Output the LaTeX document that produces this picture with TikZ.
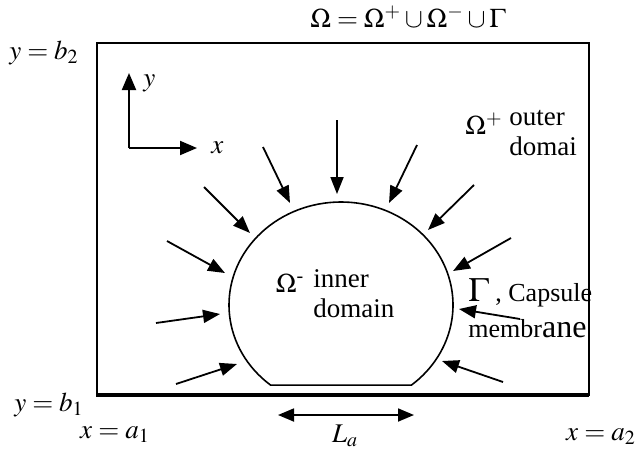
\documentclass[tikz,border=0pt]{standalone}
\usepackage{mathptmx}
\usepackage[no-math]{fontspec}
\setmainfont{Liberation Serif}
\usepackage{tikz}
\usetikzlibrary{
    arrows.meta,
    positioning,
    calc
}

\begin{document}
\begin{tikzpicture}[
    x=0.5pt, y=-0.5pt,
    every node/.style={inner sep=0pt, font=\fontsize{13.5}{15}\selectfont},
    wall/.style={draw=black, line width=0.8pt},
    ground/.style={draw=black, line width=2pt},
    membrane/.style={draw=black, line width=0.8pt},
    loadarrow/.style={draw=black, line width=0.9pt, -{Triangle[length=8.5pt, width=6.5pt]}},
    axisarrow/.style={draw=black, line width=1pt, -{Triangle[length=8.5pt, width=7pt]}},
    spanarrow/.style={draw=black, line width=0.9pt, {Triangle[length=8pt, width=6.5pt]}-{Triangle[length=8pt, width=6.5pt]}},
    lbl/.style={align=left, anchor=west}
]
\useasboundingbox (0,0) rectangle (642,450);

% ==================== DOMAIN ====================
\coordinate (sw) at (97,395);
\coordinate (ne) at (589,43);
\draw[wall] (sw) rectangle (ne);
\draw[ground] ($(sw)+(-1,0)$) -- (sw -| ne);

\node (omega) at (408,17) {$\Omega=\Omega^{+}\cup\Omega^{-}\cup\Gamma$};
\node (yb2) at (44,53) {$y=b_{2}$};
\node (yb1) at (49,405) {$y=b_{1}$};
\node (xa1) at (115,435) {$x=a_{1}$};
\node (xa2) at (601,437) {$x=a_{2}$};

% ==================== AXES ====================
\coordinate (orig) at (129,148);
\coordinate (ytip) at (129,73);
\coordinate (xtip) at (197,148);
\draw[axisarrow] (orig) -- (ytip);
\draw[axisarrow] (orig) -- (xtip);
\node[right=7pt of ytip, yshift=-5pt] (ylab) {$y$};
\node[right=7pt of xtip] (xlab) {$x$};

% ==================== OUTER DOMAIN ====================
\node (omplus) at (484,124) {$\Omega^{+}$};
\node[lbl, anchor=north west] (outer) at (509,110) {outer\\domai};

% ==================== CAPSULE ====================
\coordinate (cap) at (341,305);
\draw[membrane] (cap) ++(129:112 and 103) arc[start angle=129, end angle=411, x radius=112, y radius=103] -- cycle;

\node (omminus) at (290,283) {$\Omega$\textsuperscript{-}};
\node[lbl] (inner) at (313,294) {inner\\domain};

\node[lbl, font=\fontsize{13}{15}\selectfont] (gamma) at (468,293) {{\fontsize{17}{17}\selectfont$\Gamma$} , Capsule};
\node[lbl, font=\fontsize{13}{15}\selectfont] (membr) at (468,329) {membr{\fontsize{16}{16}\selectfont ane}};

% ==================== PRESSURE LOAD ====================
\foreach \sx/\sy/\ex/\ey [count=\i] in {
    337/120/337/194, 263/147/290/203, 417/145/389/203,
    204/187/250/233, 474/185/428/230, 167/241/225/273,
    156/323/220/314, 176/384/237/364, 511/238/453/271,
    520/319/459/309, 503/382/442/361}{
  \coordinate (out\i) at (\sx,\sy);
  \coordinate (on\i) at (\ex,\ey);
  \draw[loadarrow] (out\i) -- (on\i);
}

% ==================== CONTACT LENGTH ====================
\coordinate (la1) at (278,415);
\coordinate (la2) at (414,415);
\draw[spanarrow] (la1) -- (la2);
\node (lalab) at (345,436) {$L_{a}$};

\end{tikzpicture}
\end{document}
